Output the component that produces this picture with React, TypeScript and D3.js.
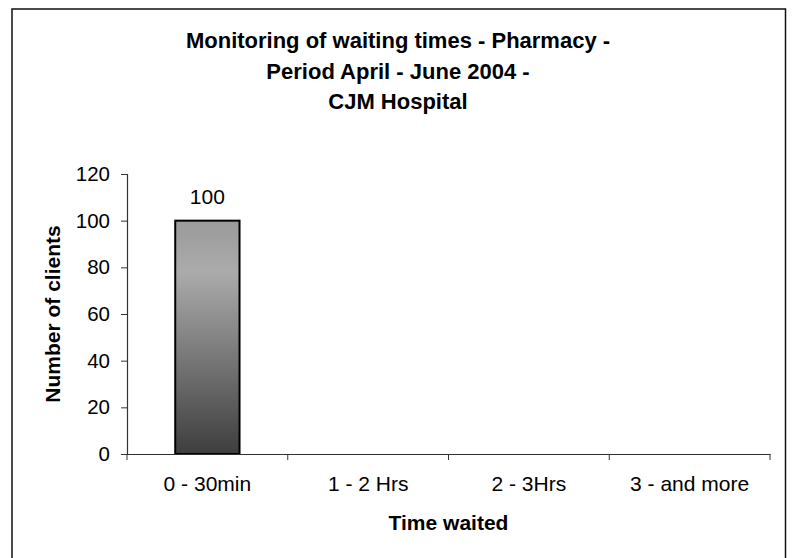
import React, { useRef, useEffect } from 'react';
import { select, scaleLinear, scaleBand, axisBottom, axisLeft } from 'd3';

const categories = ['0 - 30min', '1 - 2 Hrs', '2 - 3Hrs', '3 - and more'];
const clients = [100, 0, 0, 0];
const yTicks = [0, 20, 40, 60, 80, 100, 120];
const titleLines = [
	'Monitoring of waiting times - Pharmacy -',
	'Period April - June 2004 -',
	'CJM Hospital',
];

const FONT = '"Liberation Sans", Arial, sans-serif';

function App() {
	const width = 796;
	const height = 558;
	const svgRef = useRef<SVGSVGElement>(null);

	useEffect(() => {
		const svg = select(svgRef.current);
		svg.selectAll('*').remove();

		const left = 127;
		const right = 770;
		const top = 174;
		const bottom = 454;

		// outer chart border
		svg
			.append('rect')
			.attr('x', 12)
			.attr('y', 9)
			.attr('width', 773.5)
			.attr('height', 560)
			.attr('fill', '#fff')
			.attr('stroke', '#111')
			.attr('stroke-width', 1.5);

		const defs = svg.append('defs');
		const grad = defs
			.append('linearGradient')
			.attr('id', 'barGrad')
			.attr('x1', 0)
			.attr('y1', 0)
			.attr('x2', 0)
			.attr('y2', 1);
		grad.append('stop').attr('offset', '0%').attr('stop-color', '#9a9a9a');
		grad.append('stop').attr('offset', '22%').attr('stop-color', '#ababab');
		grad.append('stop').attr('offset', '100%').attr('stop-color', '#3e3e3e');

		const title = svg
			.append('text')
			.attr('x', 398)
			.attr('text-anchor', 'middle')
			.attr('font-family', FONT)
			.attr('font-weight', 'bold')
			.attr('font-size', 22)
			.attr('fill', '#000');
		titleLines.forEach((t, i) => {
			title
				.append('tspan')
				.attr('x', 398)
				.attr('y', 48 + i * 30.5)
				.text(t);
		});

		const xScale = scaleBand<string>().domain(categories).range([left, right]);
		const yScale = scaleLinear().domain([0, 120]).range([bottom, top]);

		const yAxis = axisLeft(yScale).tickValues(yTicks).tickSize(6).tickPadding(11);
		const gy = svg
			.append('g')
			.attr('transform', `translate(${left},0)`)
			.call(yAxis);
		gy.select('.domain').attr('stroke', '#333').attr('stroke-width', 1.2);
		gy.selectAll('.tick line').attr('stroke', '#333');
		gy.selectAll('.tick text')
			.attr('font-family', FONT)
			.attr('font-size', 20.5)
			.attr('fill', '#000');

		const bw = xScale.bandwidth() / 2.5;
		svg
			.selectAll('.bar')
			.data(clients)
			.join('rect')
			.attr('class', 'bar')
			.attr('x', (d, i) => (xScale(categories[i]) ?? 0) + (xScale.bandwidth() - bw) / 2)
			.attr('y', (d) => yScale(d))
			.attr('width', bw)
			.attr('height', (d) => bottom - yScale(d))
			.attr('fill', 'url(#barGrad)')
			.attr('stroke', '#000')
			.attr('stroke-width', 2)
			.style('display', (d) => (d > 0 ? null : 'none'));

		svg
			.selectAll('.barLabel')
			.data(clients)
			.join('text')
			.attr('class', 'barLabel')
			.attr('x', (d, i) => (xScale(categories[i]) ?? 0) + xScale.bandwidth() / 2)
			.attr('y', (d) => yScale(d) - 17)
			.attr('text-anchor', 'middle')
			.attr('font-family', FONT)
			.attr('font-size', 21)
			.text((d) => (d > 0 ? d : ''));

		// category ticks sit on band boundaries, like Excel
		const xAxis = axisBottom(xScale).tickSize(0).tickPadding(22);
		const gx = svg
			.append('g')
			.attr('transform', `translate(0,${bottom})`)
			.call(xAxis);
		gx.select('.domain').attr('stroke', '#333').attr('stroke-width', 1.2);
		gx.selectAll('.tick text')
			.attr('font-family', FONT)
			.attr('font-size', 21)
			.attr('fill', '#000');
		gx.selectAll('.edge')
			.data([left, ...categories.map((c) => (xScale(c) ?? 0) + xScale.bandwidth())])
			.join('line')
			.attr('class', 'edge')
			.attr('x1', (d) => d)
			.attr('x2', (d) => d)
			.attr('y1', 0)
			.attr('y2', 6)
			.attr('stroke', '#333');

		svg
			.append('text')
			.attr('x', (left + right) / 2)
			.attr('y', 530)
			.attr('text-anchor', 'middle')
			.attr('font-family', FONT)
			.attr('font-weight', 'bold')
			.attr('font-size', 21)
			.text('Time waited');

		svg
			.append('text')
			.attr('transform', `translate(60,${(top + bottom) / 2}) rotate(-90)`)
			.attr('text-anchor', 'middle')
			.attr('font-family', FONT)
			.attr('font-weight', 'bold')
			.attr('font-size', 21)
			.text('Number of clients');
	}, []);

	return (
		<svg
			ref={svgRef}
			width={width}
			height={height}
			style={{ position: 'absolute', left: 0, top: 0, background: '#fff' }}
		></svg>
	);
}

export default App;
